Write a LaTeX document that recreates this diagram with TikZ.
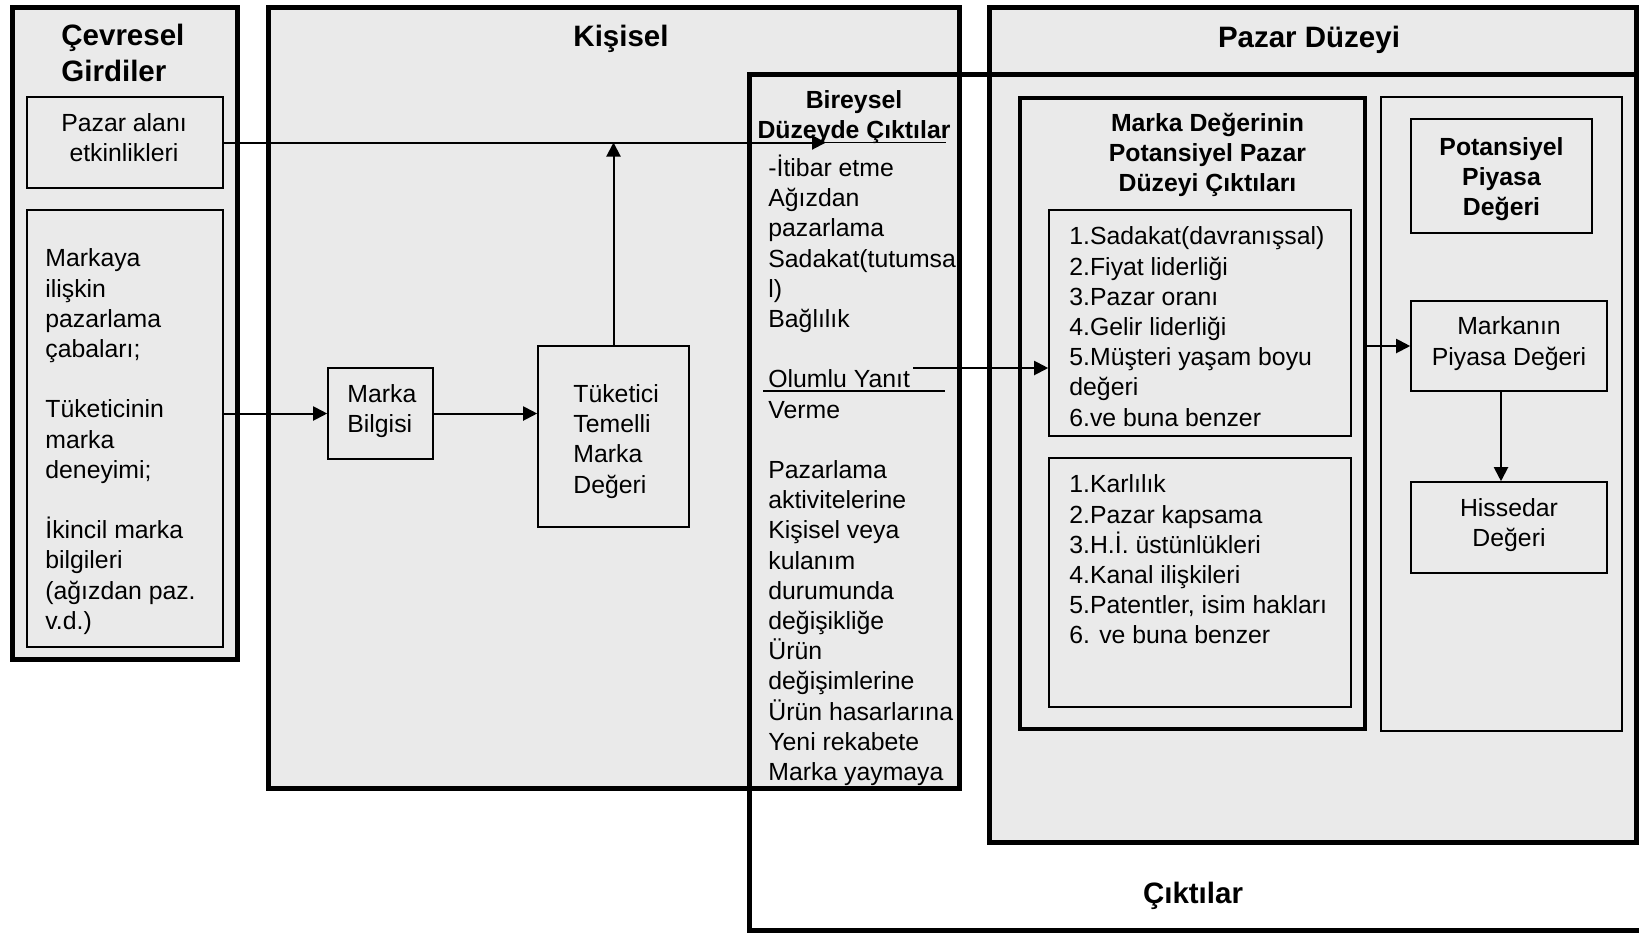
\documentclass[tikz,border=0pt]{standalone}
\usepackage{fontspec}
\setmainfont{Liberation Sans}
\usetikzlibrary{arrows.meta,fit}
\definecolor{panel}{HTML}{EAEAEA}
\newcommand{\bodyfont}{\fontsize{12.4pt}{15.1pt}\selectfont}
\newcommand{\headfont}{\bfseries\fontsize{12.4pt}{15pt}\selectfont}
\newcommand{\titlefont}{\bfseries\fontsize{14.75pt}{18pt}\selectfont}
% struts that fix the height of a first line of text
\newcommand{\ls}{\rule{0pt}{13pt}}
\newcommand{\lt}{\rule{0pt}{15.5pt}}

\begin{document}
\begin{tikzpicture}[x=0.5pt,y=-0.5pt,
  heavybox/.style={draw=black, line width=2.5pt, fill=panel, inner sep=0pt},
  framebox/.style={draw=black, line width=2pt, fill=panel, inner sep=0pt},
  itembox/.style={draw=black, line width=0.8pt, fill=panel, inner sep=0pt},
  keybox/.style={draw=black, line width=1.3pt, fill=panel, inner sep=0pt},
  bodytext/.style={font=\bodyfont, inner sep=0pt, align=left, anchor=north west},
  bodycenter/.style={font=\bodyfont, inner sep=0pt, align=center, anchor=north},
  boldcenter/.style={font=\headfont, inner sep=0pt, align=center, anchor=north},
  bigtitle/.style={font=\titlefont, inner sep=0pt, anchor=base},
  flow/.style={line width=1pt, -{Triangle[length=7pt,width=7pt]}},
  underrule/.style={line width=0.9pt},
]
\useasboundingbox (0,0) rectangle (1639,933);
\fill[white] (0,0) rectangle (1639,933);

% ---- environmental inputs ----
\node[heavybox, fit={(12.5,7.5) (237.5,659.5)}] (cev) {};
\node[itembox, fit={(27,97) (223,188)}] (pz) {};
\node[itembox, fit={(27,210) (223,647)}] (inp) {};

% ---- individual level ----
\node[heavybox, fit={(268.5,7.5) (959.5,788)}] (kis) {};
\node[itembox, fit={(328,368) (433,459)}] (mb) {};
\node[itembox, fit={(538,346) (689,527)}] (tk) {};

% ---- market level ----
\node[heavybox, fit={(989.5,7.5) (1636,842.5)}] (pd) {};

% ---- outputs frame (open to the right) ----
\draw[line width=2.5pt] (1650,74.5) -| (749,930) -- (1650,930);

\node[framebox, fit={(1020,97.5) (1365,729)}] (md) {};
\node[itembox, fit={(1049,210) (1351,436)}] (s1) {};
\node[itembox, fit={(1049,458) (1351,707)}] (s2) {};
\node[itembox, fit={(1381,97) (1622,731)}] (rc) {};
\node[keybox, fit={(1411,119) (1592,233)}] (pp) {};
\node[itembox, fit={(1411,301) (1607,391)}] (mk) {};
\node[itembox, fit={(1411,482) (1607,573)}] (hs) {};

% ---- titles ----
\node[font=\titlefont, inner sep=0pt, align=left, anchor=north west] (t-cev) at (61,14) {\lt Çevresel\\Girdiler};
\node[bigtitle] (t-kis) at (621,46.5) {Kişisel};
\node[bigtitle] (t-pd) at (1309,47) {Pazar Düzeyi};
\node[bigtitle] (t-cik) at (1193,903) {Çıktılar};

% ---- texts ----
\node[bodycenter] (x-pz) at (124,105) {\ls Pazar alanı\\etkinlikleri};
\node[bodytext] (x-inp) at (45,240.5) {\ls Markaya\\ilişkin\\pazarlama\\çabaları;\\ \\Tüketicinin\\marka\\deneyimi;\\ \\İkincil marka\\bilgileri\\(ağızdan paz.\\v.d.)};
\node[bodytext] (x-mb) at (347,376) {\ls Marka\\Bilgisi};
\node[bodytext] (x-tk) at (573,376) {\ls Tüketici\\Temelli\\Marka\\Değeri};
\node[boldcenter] (x-bir) at (854,82) {\ls Bireysel\\Düzeyde Çıktılar};
\node[bodytext] (x-bl) at (768,150) {\ls -İtibar etme\\Ağızdan\\pazarlama\\Sadakat(tutumsa\\l)\\Bağlılık\\ \\Olumlu Yanıt\\Verme\\ \\Pazarlama\\aktivitelerine\\Kişisel veya\\kulanım\\durumunda\\değişikliğe\\Ürün\\değişimlerine\\Ürün hasarlarına\\Yeni rekabete\\Marka yaymaya};
\node[boldcenter] (x-md) at (1207.5,105) {\ls Marka Değerinin\\Potansiyel Pazar\\Düzeyi Çıktıları};
\node[bodytext] (x-s1) at (1069,218.5) {\ls 1.Sadakat(davranışsal)\\2.Fiyat liderliği\\3.Pazar oranı\\4.Gelir liderliği\\5.Müşteri yaşam boyu\\değeri\\6.ve buna benzer};
\node[bodytext] (x-s2) at (1069,466.5) {\ls 1.Karlılık\\2.Pazar kapsama\\3.H.İ. üstünlükleri\\4.Kanal ilişkileri\\5.Patentler, isim hakları\\6. ve buna benzer};
\node[boldcenter] (x-pp) at (1501.5,129) {\ls Potansiyel\\Piyasa\\Değeri};
\node[bodycenter] (x-mk) at (1509,308.5) {\ls Markanın\\Piyasa Değeri};
\node[bodycenter] (x-hs) at (1509,490) {\ls Hissedar\\Değeri};

% ---- underlines in the individual outputs column ----
\coordinate (u1a) at (763,142.5);
\coordinate (u1b) at (946,142.5);
\coordinate (u2a) at (763,391);
\coordinate (u2b) at (945,391);
\draw[underrule] (u1a) -- (u1b);
\draw[underrule] (u2a) -- (u2b);

% ---- connectors ----
\coordinate (bt) at (826,142.5);
\coordinate (ol) at (913,368);
\coordinate (ax) at (1501,0);
\draw[flow] (pz.east) -- (bt);
\draw[flow] (inp.east |- mb.west) -- (mb.west);
\draw[flow] (mb.east) -- (mb.east -| tk.west);
\draw[flow] (tk.north) -- (tk.north |- pz.east);
\draw[flow] (ol) -- (ol -| s1.west);
\draw[flow] (md.east |- mk.west) -- (mk.west);
\draw[flow] (mk.south -| ax) -- (hs.north -| ax);
\end{tikzpicture}
\end{document}
